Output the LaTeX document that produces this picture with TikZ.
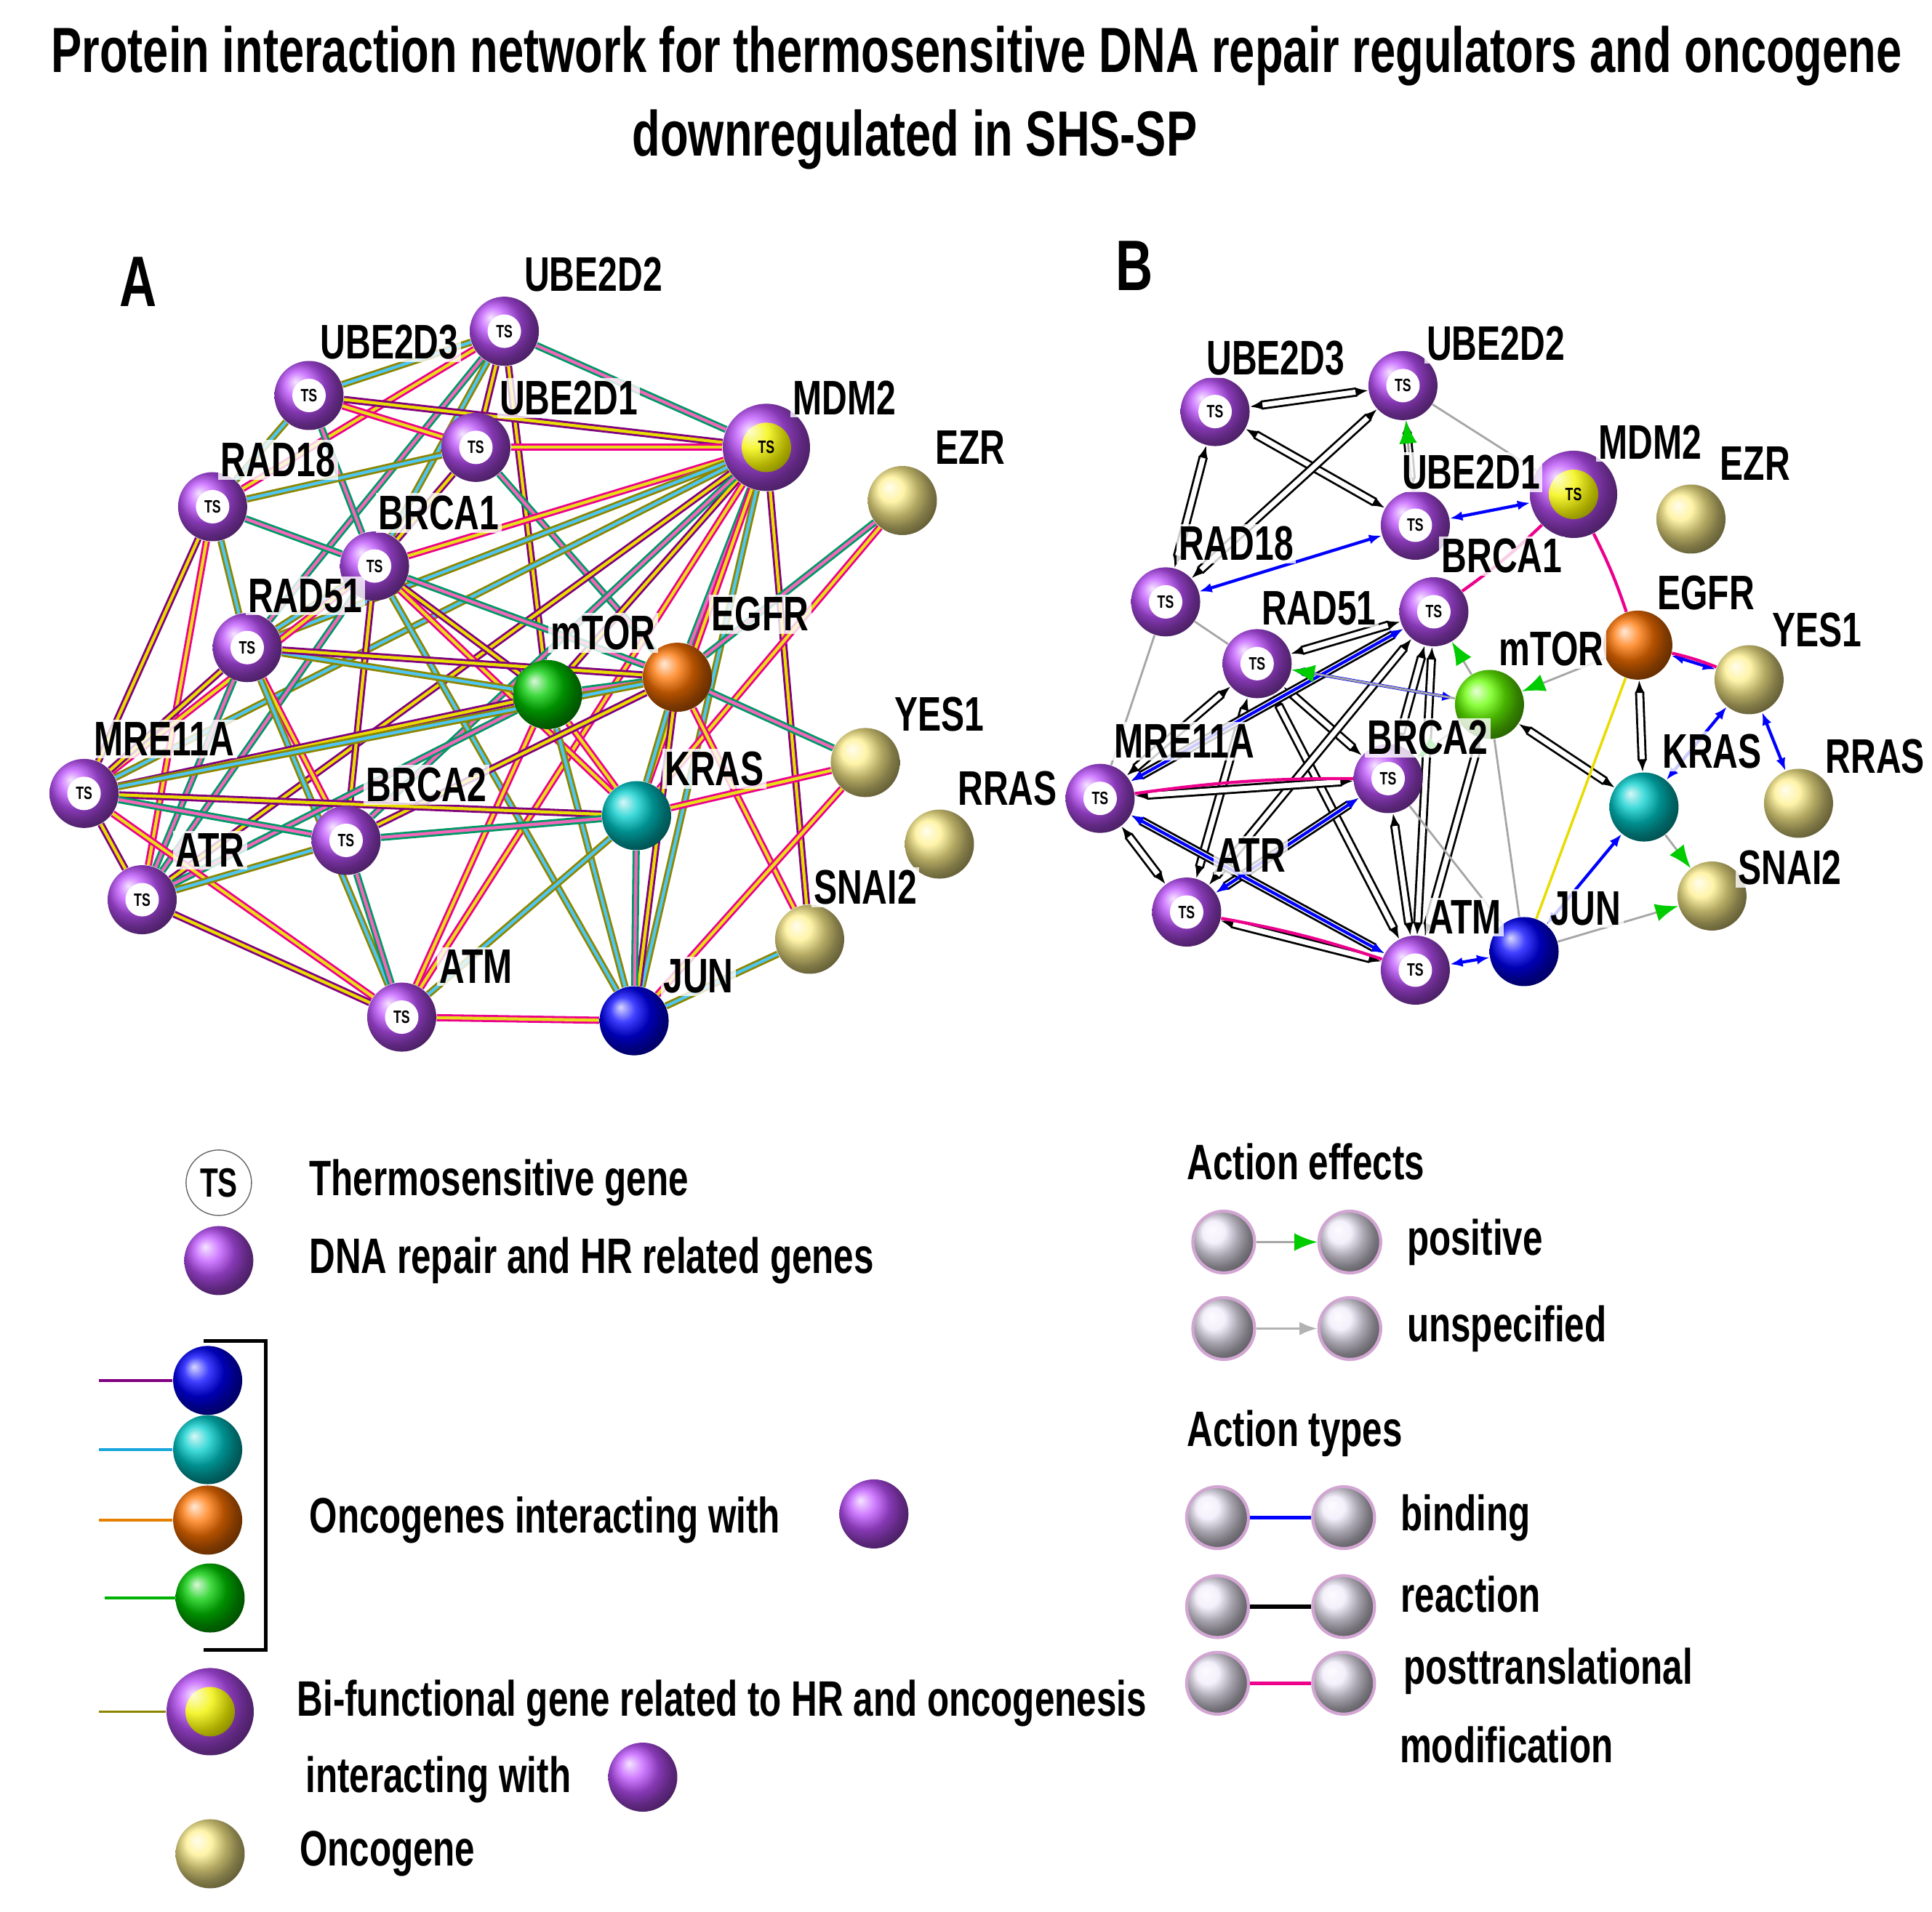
\documentclass[tikz,border=0pt]{standalone}
\usepackage{fontspec}
\setmainfont{Liberation Sans}[FakeStretch=0.72]
\usetikzlibrary{arrows.meta}
\pgfdeclarelayer{bg}\pgfsetlayers{bg,main}
\definecolor{pur}{RGB}{190,80,255}
\definecolor{oyel}{RGB}{255,240,140}
\definecolor{pal}{RGB}{240,235,250}
\begin{document}
\begin{tikzpicture}[x=0.017cm,y=-0.017cm,
 ts/.style={circle,minimum size=0.95cm,inner sep=0,ball color=pur,font=\bfseries\scriptsize,
   path picture={\fill[white] (path picture bounding box.center) circle (0.23cm);}},
 onc/.style={circle,minimum size=0.95cm,inner sep=0,ball color=#1},
 mdm/.style={circle,minimum size=1.2cm,inner sep=0,ball color=pur,font=\bfseries\scriptsize,
   path picture={\shade[ball color=yellow!90!olive] (path picture bounding box.center) circle (0.34cm);}},
 lab/.style={font=\bfseries\fontsize{19}{19}\selectfont,fill=white,fill opacity=0.8,text opacity=1,inner sep=1pt},
 leg/.style={font=\bfseries\fontsize{19.5}{19.5}\selectfont,anchor=west,inner sep=0},
 pale/.style={circle,minimum size=0.85cm,inner sep=0,ball color=pal,draw=violet!35,line width=1.2pt},
 e0/.style={draw=magenta,double=yellow!90!black,double distance=1.2pt,line width=0.8pt},
 e1/.style={draw=olive,double=cyan!70,double distance=1.2pt,line width=0.8pt},
 e2/.style={draw=violet,double=yellow!80!olive,double distance=1.2pt,line width=0.8pt},
 e3/.style={draw=teal!80!green,double=magenta!60,double distance=1.2pt,line width=0.8pt},
 rx/.style={draw=black,double=white,double distance=2pt,line width=0.8pt,{Latex[length=5pt]}-{Latex[length=5pt]}},
 bd/.style={blue,line width=1.2pt,{Latex[length=5pt]}-{Latex[length=5pt]}},
 gr/.style={gray!70,line width=0.8pt},
 posx/.style={gray!70,line width=0.8pt,-{Latex[length=9pt,width=7pt,fill=green!80!black,color=green!80!black]}},
 pt/.style={magenta,line width=1.2pt}]
\useasboundingbox (0,0) rectangle (1563,1547);
\node[font=\bfseries\fontsize{25}{25}\selectfont] (t1) at (790,45) {Protein interaction network for thermosensitive DNA  repair regulators and oncogene};
\node[font=\bfseries\fontsize{25}{25}\selectfont] (t2) at (740,113) {downregulated  in SHS-SP};
\node[font=\bfseries\fontsize{28}{28}\selectfont] (pA) at (112,228) {A};
\node[font=\bfseries\fontsize{28}{28}\selectfont] (pB) at (918,215) {B};
% ---------- A nodes
\foreach \n/\x/\y in {UBE2D2/408/268,UBE2D3/250/320,UBE2D1/385/362,RAD18/172/410,BRCA1/303/458,RAD51/200/524,MRE11A/68/642,BRCA2/280/680,ATR/115/728,ATM/325/823}
  \node[ts] (a\n) at (\x,\y) {TS};
\node[mdm] (aMDM2) at (620,362) {TS};
\foreach \n/\x/\y in {EZR/730/405,YES1/700/617,RRAS/760/683,SNAI2/655/760}
  \node[onc=oyel] (a\n) at (\x,\y) {};
\node[onc=green!80!black] (amTOR) at (443,562) {};
\node[onc=orange!90!red] (aEGFR) at (548,548) {};
\node[onc=cyan!60!teal] (aKRAS) at (515,660) {};
\node[onc=blue] (aJUN) at (513,826) {};
\foreach \n/\x/\y in {UBE2D2/480/222,UBE2D3/315/277,UBE2D1/460/322,MDM2/683/322,EZR/785/362,RAD18/225/372,BRCA1/355/415,RAD51/247/482,mTOR/488/512,EGFR/615/497,YES1/760/578,RRAS/815/638,KRAS/578/622,MRE11A/133/598,BRCA2/345/635,ATR/170/688,SNAI2/700/718,ATM/385/782,JUN/565/790}
  \node[lab] (la\n) at (\x,\y) {\n};
\begin{pgfonlayer}{bg}
\foreach \a/\b [count=\i] in {UBE2D2/UBE2D3,UBE2D2/UBE2D1,UBE2D2/MDM2,UBE2D2/RAD18,UBE2D2/BRCA1,UBE2D2/mTOR,UBE2D2/RAD51,UBE2D3/UBE2D1,UBE2D3/RAD18,UBE2D3/MDM2,UBE2D3/BRCA1,UBE2D1/MDM2,UBE2D1/RAD18,UBE2D1/BRCA1,UBE2D1/EGFR,MDM2/BRCA1,MDM2/RAD51,MDM2/mTOR,MDM2/EGFR,MDM2/KRAS,MDM2/MRE11A,MDM2/ATR,MDM2/BRCA2,MDM2/ATM,MDM2/JUN,MDM2/SNAI2,EZR/EGFR,EZR/KRAS,RAD18/RAD51,RAD18/MRE11A,RAD18/BRCA1,RAD18/ATR,BRCA1/RAD51,BRCA1/mTOR,BRCA1/EGFR,BRCA1/KRAS,BRCA1/JUN,BRCA1/BRCA2,BRCA1/ATR,BRCA1/MRE11A,RAD51/mTOR,RAD51/MRE11A,RAD51/ATR,RAD51/BRCA2,RAD51/ATM,RAD51/EGFR,mTOR/EGFR,mTOR/KRAS,mTOR/JUN,mTOR/MRE11A,mTOR/ATR,mTOR/ATM,EGFR/KRAS,EGFR/JUN,EGFR/YES1,EGFR/SNAI2,EGFR/MRE11A,EGFR/BRCA2,KRAS/JUN,KRAS/YES1,KRAS/ATM,KRAS/MRE11A,KRAS/BRCA2,YES1/JUN,SNAI2/JUN,MRE11A/ATR,MRE11A/BRCA2,MRE11A/ATM,ATR/BRCA2,ATR/ATM,BRCA2/ATM,ATM/JUN}
 {\pgfmathtruncatemacro\k{mod(\i,4)}\draw[e\k] (a\a) -- (a\b);}
\end{pgfonlayer}
% ---------- B nodes
\foreach \n/\x/\y in {UBE2D3/983/333,UBE2D2/1135/312,UBE2D1/1145/425,RAD18/943/487,BRCA1/1160/495,RAD51/1017/537,MRE11A/890/646,BRCA2/1123/630,ATR/960/738,ATM/1145/785}
  \node[ts] (b\n) at (\x,\y) {TS};
\node[mdm] (bMDM2) at (1273,400) {TS};
\foreach \n/\x/\y in {EZR/1368/420,YES1/1415/550,RRAS/1455/650,SNAI2/1385/725}
  \node[onc=oyel] (b\n) at (\x,\y) {};
\node[onc=green!60!yellow] (bmTOR) at (1205,570) {};
\node[onc=orange!90!red] (bEGFR) at (1325,522) {};
\node[onc=cyan!60!teal] (bKRAS) at (1330,653) {};
\node[onc=blue] (bJUN) at (1233,770) {};
\foreach \n/\x/\y in {UBE2D3/1032/290,UBE2D2/1210/278,UBE2D1/1190/382,MDM2/1335/358,EZR/1420/375,RAD18/1000/440,BRCA1/1215/450,RAD51/1067/492,mTOR/1255/525,EGFR/1380/480,YES1/1470/510,RRAS/1517/612,KRAS/1385/608,MRE11A/958/600,BRCA2/1155/597,ATR/1012/692,SNAI2/1448/702,ATM/1185/742,JUN/1283/735}
  \node[lab] (lb\n) at (\x,\y) {\n};
\begin{pgfonlayer}{bg}
\foreach \a/\b in {UBE2D3/UBE2D2,UBE2D3/RAD18,UBE2D3/UBE2D1,UBE2D2/UBE2D1,UBE2D2/RAD18,RAD51/MRE11A,RAD51/ATR,RAD51/BRCA2,RAD51/ATM,RAD51/BRCA1,BRCA1/MRE11A,BRCA1/ATR,BRCA1/ATM,BRCA1/BRCA2,BRCA2/ATM,BRCA2/MRE11A,BRCA2/ATR,MRE11A/ATR,MRE11A/ATM,ATR/ATM,mTOR/KRAS,EGFR/KRAS,mTOR/ATM}
  \draw[rx] (b\a) -- (b\b);
\foreach \a/\b in {UBE2D1/RAD18,MDM2/UBE2D1,YES1/KRAS,YES1/RRAS,JUN/KRAS,JUN/ATM,EGFR/YES1,RAD51/mTOR,MRE11A/BRCA1,ATR/BRCA2,MRE11A/ATM}
  \draw[bd] (b\a) -- (b\b);
\foreach \a/\b in {RAD18/MRE11A,RAD51/RAD18,UBE2D2/MDM2,BRCA2/JUN,mTOR/JUN}
  \draw[gr] (b\a) -- (b\b);
\foreach \a/\b in {mTOR/BRCA1,mTOR/RAD51,KRAS/SNAI2,mTOR/BRCA2,UBE2D1/UBE2D2,EGFR/mTOR}
  \draw[posx] (b\a) -- (b\b);
\draw[posx] (bJUN) -- (bSNAI2);
\foreach \a/\b in {MDM2/EGFR,MDM2/BRCA1,EGFR/YES1,ATR/ATM,MRE11A/BRCA2}
  \draw[pt] (b\a) to[bend left=4] (b\b);
\draw[yellow!80!olive,line width=1pt] (bJUN) -- (bEGFR);
\end{pgfonlayer}
% ---------- legend left
\node[circle,draw=black!60,fill=white,minimum size=0.9cm,inner sep=0,font=\bfseries\fontsize{16}{16}\selectfont] (lgTS) at (177,957) {TS};
\node[leg] (lgTSt) at (250,957) {Thermosensitive gene};
\node[onc=pur] (lgDNA) at (177,1020) {};
\node[leg] (lgDNAt) at (250,1020) {DNA repair and HR related genes};
\node[onc=blue] (lo1) at (168,1117) {};
\node[onc=cyan!60!teal] (lo2) at (168,1173) {};
\node[onc=orange!90!red] (lo3) at (168,1230) {};
\node[onc=green!80!black] (lo4) at (170,1293) {};
\coordinate (lc1) at (80,1117); \coordinate (lc2) at (80,1173);
\coordinate (lc3) at (80,1230); \coordinate (lc4) at (85,1293);
\draw[violet,line width=1pt] (lc1) -- (lo1);
\draw[cyan!80!teal,line width=1pt] (lc2) -- (lo2);
\draw[orange!80!olive,line width=1pt] (lc3) -- (lo3);
\draw[green!70!black,line width=1pt] (lc4) -- (lo4);
\coordinate (br1) at (165,1085); \coordinate (br2) at (215,1335);
\draw[line width=1.5pt] (br1) -- (br1 -| br2) -- (br2) -- (br2 -| br1);
\node[leg] (lgOnc) at (250,1230) {Oncogenes interacting with};
\node[onc=pur] (lgOncB) at (707,1225) {};
\node[mdm] (lgMdm) at (170,1385) {};
\coordinate (lc5) at (80,1385);
\draw[olive,line width=1pt] (lc5) -- (lgMdm);
\node[leg] (lgBi) at (240,1378) {Bi-functional gene related  to HR and oncogenesis};
\node[leg] (lgBi2) at (247,1440) {interacting with};
\node[onc=pur] (lgBiB) at (520,1438) {};
\node[onc=oyel] (lgOg) at (170,1500) {};
\node[leg] (lgOgt) at (242,1500) {Oncogene};
% ---------- legend right
\node[leg] (ae) at (960,940) {Action effects};
\node[pale] (p1) at (990,1005) {}; \node[pale] (p2) at (1092,1005) {};
\draw[posx] (p1) -- (p2);
\node[leg] (pt1) at (1138,1005) {positive};
\node[pale] (u1) at (990,1075) {}; \node[pale] (u2) at (1092,1075) {};
\draw[gray!60,line width=1pt,-{Latex[length=7pt]}] (u1) -- (u2);
\node[leg] (ut1) at (1138,1075) {unspecified};
\node[leg] (at) at (960,1160) {Action types};
\node[pale] (b1) at (985,1228) {}; \node[pale] (b2) at (1087,1228) {};
\draw[blue,line width=1.5pt] (b1) -- (b2);
\node[leg] (bt) at (1133,1228) {binding};
\node[pale] (r1) at (985,1300) {}; \node[pale] (r2) at (1087,1300) {};
\draw[black,line width=1.5pt] (r1) -- (r2);
\node[leg] (rt) at (1133,1290) {reaction};
\node[pale] (m1) at (985,1362) {}; \node[pale] (m2) at (1087,1362) {};
\draw[magenta,line width=1.5pt] (m1) -- (m2);
\node[leg] (mt) at (1135,1352) {posttranslational};
\node[leg] (mt2) at (1132,1412) {modification};
\end{tikzpicture}
\end{document}
